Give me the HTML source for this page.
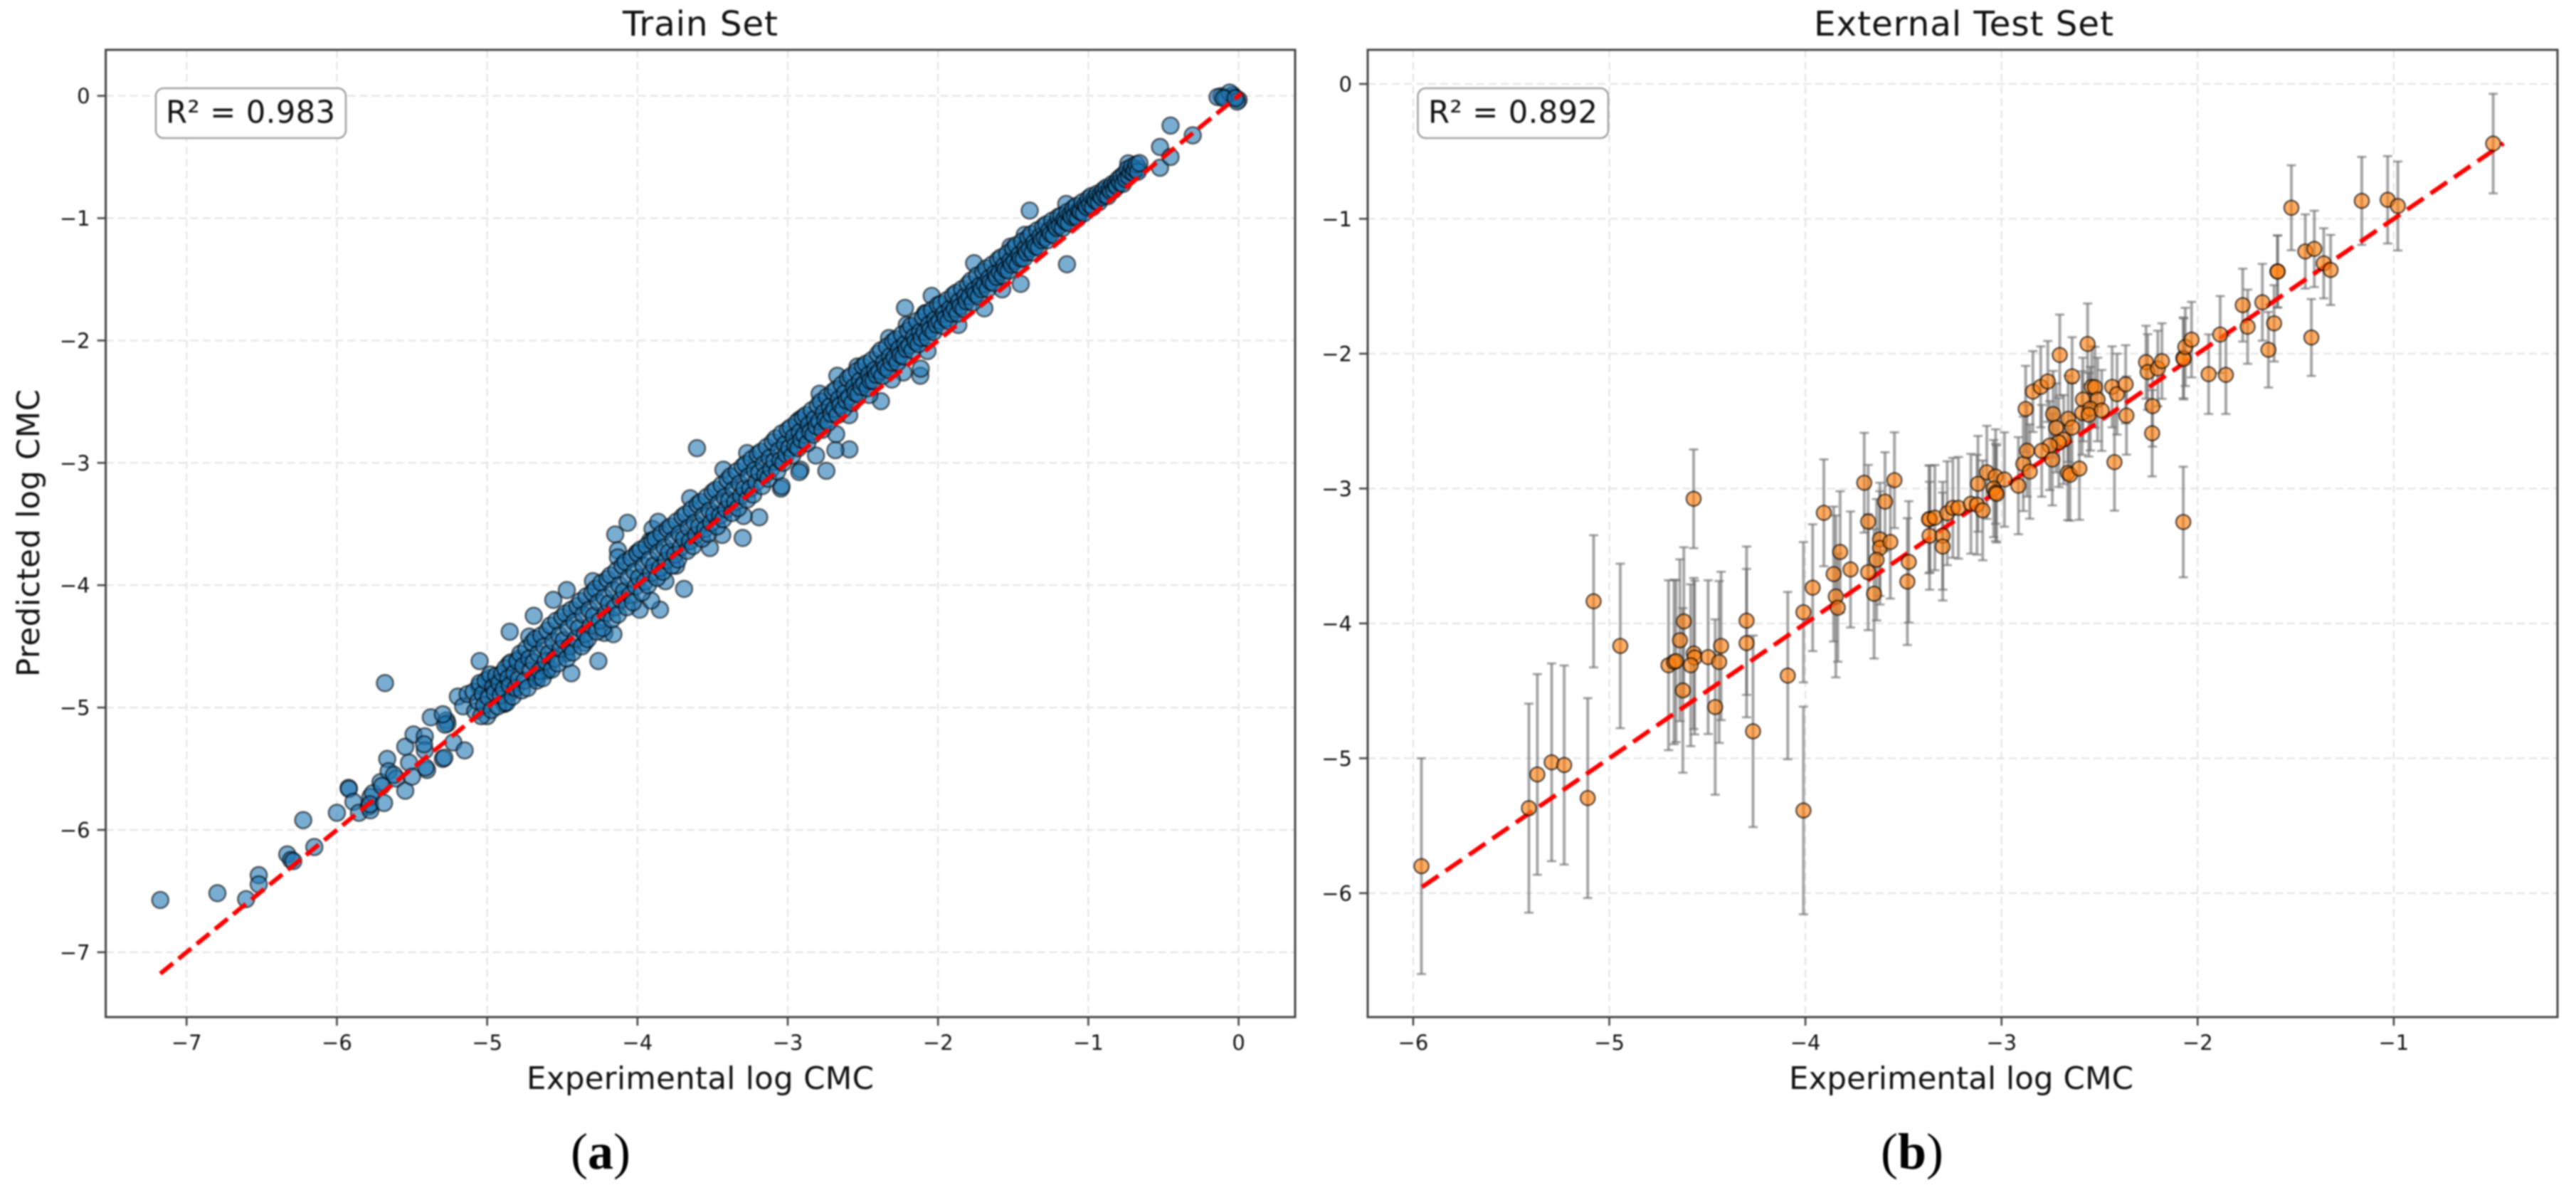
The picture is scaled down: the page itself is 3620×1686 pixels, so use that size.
<!DOCTYPE html>
<html lang="en">
<head>
<meta charset="utf-8">
<title>Train and External Test Set parity plots</title>
<style>
  html,body{margin:0;padding:0;background:#fff;}
  body{width:3620px;height:1686px;overflow:hidden;}
  svg{display:block;filter:blur(1px);}
  text{font-family:"DejaVu Sans","Liberation Sans",sans-serif;fill:#111;}
  .grid{stroke:#e4e4e4;stroke-width:2.2;stroke-dasharray:11 6;fill:none;}
  .spine{stroke:#444;stroke-width:3;fill:none;}
  .tick{stroke:#444;stroke-width:2.6;}
  .tl{font-size:29px;}
  .lab{font-size:43.5px;}
  .ttl{font-size:48.5px;}
  .r2box{fill:#fff;stroke:#a3a3a3;stroke-width:2.6;}
  .r2{font-size:43.3px;}
  .cap{font-family:"Liberation Serif",serif;font-size:72px;fill:#000;}
  .identity{stroke:#ff0000;stroke-width:6.2;fill:none;}
  .mk-train{fill:rgba(31,119,180,.6);stroke:rgba(0,0,0,.6);stroke-width:2.4;}
  .mk-test{fill:rgba(255,127,14,.64);stroke:rgba(0,0,0,.66);stroke-width:2.2;}
  .eb{stroke:rgba(105,105,105,.6);stroke-width:4;fill:none;}
  .ebc{stroke:rgba(105,105,105,.6);stroke-width:3;fill:none;}
</style>
</head>
<body>
<svg id="fig" width="3620" height="1686" viewBox="0 0 3620 1686" xmlns="http://www.w3.org/2000/svg">
  <rect width="3620" height="1686" fill="#fff"/>
  <g id="panelA"></g>
  <g id="panelB"></g>

  <text class="ttl" x="984" y="50" text-anchor="middle" textLength="218">Train Set</text>
  <text class="ttl" x="2759.5" y="50" text-anchor="middle" textLength="421">External Test Set</text>
  <text class="lab" x="984" y="1530" text-anchor="middle" textLength="488">Experimental log CMC</text>
  <text class="lab" x="2756" y="1530" text-anchor="middle" textLength="484">Experimental log CMC</text>
  <text class="lab" transform="translate(55,749) rotate(-90)" text-anchor="middle" textLength="404">Predicted log CMC</text>

  <rect class="r2box" x="219" y="124" width="267" height="70" rx="11"/>
  <text class="r2" x="233" y="172.5" textLength="238">R² = 0.983</text>
  <rect class="r2box" x="1992.5" y="124" width="267.5" height="70" rx="11"/>
  <text class="r2" x="2007" y="172.5" textLength="238">R² = 0.892</text>

  <text class="cap" x="844" y="1642" text-anchor="middle">(<tspan font-weight="bold">a</tspan>)</text>
  <text class="cap" x="2687" y="1642" text-anchor="middle">(<tspan font-weight="bold">b</tspan>)</text>
</svg>

<script>
// ---------- tick values ----------
const trainXTicks = [-7,-6,-5,-4,-3,-2,-1,0];
const trainYTicks = [0,-1,-2,-3,-4,-5,-6,-7];
const testXTicks = [-6,-5,-4,-3,-2,-1];
const testYTicks = [0,-1,-2,-3,-4,-5,-6];

// ---------- identity line ends ----------
const trainIdentity = [-7.175, 0.02];
const testIdentity = [-5.955, -0.44];

// ---------- train set: [experimental, predicted] ----------
const trainOutliers = [
[-7.175,-6.573],[-6.795,-6.517],[-6.604,-6.566],[-6.52,-6.37],[-6.52,-6.445],[-6.33,-6.2],[-6.305,-6.245],[-6.29,-6.255],
[-6.224,-5.92],[-6.15,-6.14],[-6.0,-5.86],[-5.922,-5.656],[-5.92,-5.665],[-5.89,-5.77],[-5.853,-5.86],[-5.786,-5.81],
[-5.777,-5.84],[-5.777,-5.73],[-5.76,-5.70],[-5.78,-5.79],[-5.686,-5.78],[-5.71,-5.61],[-5.68,-4.80],[-5.665,-5.42],
[-5.656,-5.52],[-5.605,-5.58],[-5.62,-5.55],[-5.70,-5.64],[-5.545,-5.68],[-5.52,-5.45],[-5.545,-5.32],[-5.49,-5.22],
[-5.415,-5.235],[-5.415,-5.35],[-5.42,-5.30],[-5.40,-5.51],[-5.41,-5.49],[-5.5,-5.565],[-5.375,-5.08],[-5.295,-5.42],[-5.285,-5.41],
[-5.225,-5.285],[-5.15,-5.35],[-5.27,-5.105],[-5.265,-5.13],[-5.28,-5.14],[-5.295,-5.055],[-5.195,-4.91],[-5.16,-4.99],[-5.13,-4.89],
[-5.05,-4.62],[-5.053,-4.826],[-5.0,-5.07],[-4.99,-4.76],[-4.93,-4.79],[-4.886,-4.97],[-4.855,-4.645],[-4.79,-4.60],[-4.85,-4.38],
[-4.69,-4.25],[-4.72,-4.42],[-4.675,-4.755],[-4.6,-4.70],[-4.44,-4.72],[-4.56,-4.12],[-4.47,-4.04],[-4.26,-4.62],[-4.22,-4.39],
[-4.16,-4.40],[-3.85,-4.20],[-3.69,-4.03],[-3.985,-4.20],[-3.604,-2.88],[-4.066,-3.49],[-4.148,-3.585],[-3.30,-3.614],[-3.19,-3.445],
[-3.045,-3.21],[-2.743,-3.065],[-2.59,-2.89],[-2.683,-2.896],[-2.38,-2.496],[-2.118,-2.288],[-2.115,-2.23],[-2.67,-2.288],[-2.326,-1.98],
[-2.22,-1.733],[-2.042,-1.635],[-2.208,-1.872],[-1.76,-1.368],[-1.45,-1.537],[-1.39,-.938],[-1.142,-1.377],[-.734,-.552],[-.665,-.596],
[-.523,-.418],[-.523,-.588],[-.453,-.5],[-.453,-.243],[-.305,-.323],[-.115,-.003],[-.04,.006],[0,-.033],[-.14,-.01],[-.085,-.018],
[-.03,-.012],[-.06,.027],[-.01,-.047],[-.10,-.02],[-.02,-.02]
];
const trainEdgeMarks = [
[-4.13,-3.715],[-4.13,-3.773],[-4.004,-3.735],[-3.90,-3.54],[-3.862,-3.482],[-3.916,-3.638],[-3.649,-3.289],[-3.428,-3.056],[-3.27,-2.92],
[-3.041,-3.191],[-2.915,-3.056],[-3.294,-3.434],[-3.436,-3.589],[-3.518,-3.696],[-3.743,-3.841],[-3.814,-3.967],[-3.909,-4.126],
[-4.351,-4.471],[-4.477,-4.558],[-4.596,-4.685],[-4.682,-4.753],[-4.848,-4.878],[-4.888,-4.966],[-4.296,-3.967],[-2.231,-2.261],
[-2.307,-2.319],[-2.07,-2.086],[-1.865,-1.873],[-1.692,-1.737],[-1.573,-1.582],[-2.457,-2.445],[-2.591,-2.61],[-2.678,-2.765],
[-2.812,-2.94],[-2.923,-3.075],[-2.086,-1.776],[-2.536,-2.212],[-2.788,-2.435],[-2.923,-2.649],[-1.518,-1.233],[-1.423,-1.136],[-1.147,-.884]
];
const trainBandFive = [
[-5.09,-4.87],[-5.08,-5.03],[-5.06,-4.95],[-5.05,-4.80],[-5.04,-5.07],[-5.03,-4.89],[-5.02,-4.98],[-5.01,-4.78],
[-4.99,-4.92],[-4.98,-4.73],[-4.97,-5.02],[-4.96,-4.83],[-4.95,-4.88],[-4.94,-4.74],[-4.93,-4.99],[-4.92,-4.80],[-4.91,-4.90],[-4.90,-4.72],
[-4.89,-4.85],[-4.88,-4.68],[-4.87,-4.96],[-4.86,-4.76],[-4.85,-4.82],[-4.84,-4.63],[-4.83,-4.91],[-4.82,-4.72],[-4.81,-4.84],[-4.80,-4.62],
[-4.79,-4.77],[-4.78,-4.56],[-4.77,-4.86],[-4.76,-4.66],[-4.75,-4.78],[-4.74,-4.52],[-4.73,-4.84],[-4.72,-4.60],[-4.71,-4.70],[-4.70,-4.47],
[-4.69,-4.63],[-4.68,-4.44],[-4.67,-4.78],[-4.66,-4.56],[-4.65,-4.70],[-4.64,-4.41],[-4.63,-4.76],[-4.62,-4.50],[-4.61,-4.62],[-4.60,-4.37],
[-4.59,-4.56],[-4.58,-4.33],[-4.57,-4.69],[-4.56,-4.46],[-4.55,-4.60],[-4.54,-4.29],[-4.53,-4.64],[-4.52,-4.41],[-4.51,-4.52],[-4.50,-4.26],
[-4.49,-4.45],[-4.48,-4.23],[-4.47,-4.60],[-4.46,-4.35],[-4.45,-4.50],[-4.44,-4.20],[-4.43,-4.55],[-4.42,-4.30],[-4.41,-4.44],[-4.40,-4.17],
[-4.39,-4.35],[-4.38,-4.13],[-4.37,-4.50],[-4.36,-4.24],[-4.35,-4.40],[-4.34,-4.09],[-4.33,-4.44],[-4.32,-4.20],[-4.31,-4.33],[-4.30,-4.06],
[-4.29,-4.25],[-4.28,-4.03],[-4.27,-4.38],[-4.26,-4.14],[-4.25,-4.29],[-4.24,-3.98],[-4.23,-4.35],[-4.22,-4.10],[-4.21,-4.23],[-4.20,-3.95],
[-4.19,-4.15],[-4.18,-3.92],[-4.17,-4.28],[-4.16,-4.04],[-4.15,-4.18],[-4.14,-3.88],[-4.13,-4.24],[-4.12,-4.00],[-4.11,-4.12],[-4.10,-3.84],
[-4.09,-4.05],[-4.08,-3.81],[-4.07,-4.18],[-4.06,-3.94],[-4.05,-4.08],[-4.04,-3.78],[-4.03,-4.14],[-4.02,-3.89],[-4.01,-4.01],[-4.00,-3.74]
];
const trainBandFour = [
[-3.99,-3.94],[-3.98,-3.71],[-3.97,-4.06],[-3.96,-3.84],[-3.95,-3.97],[-3.94,-3.68],[-3.93,-4.00],[-3.92,-3.79],[-3.91,-3.90],[-3.90,-3.64],
[-3.89,-3.84],[-3.88,-3.62],[-3.87,-3.94],[-3.86,-3.73],[-3.85,-3.86],[-3.84,-3.58],[-3.83,-3.89],[-3.82,-3.69],[-3.81,-3.80],[-3.80,-3.54],
[-3.79,-3.73],[-3.78,-3.52],[-3.77,-3.84],[-3.76,-3.63],[-3.75,-3.75],[-3.74,-3.48],[-3.73,-3.79],[-3.72,-3.58],[-3.71,-3.69],[-3.70,-3.44],
[-3.69,-3.62],[-3.68,-3.42],[-3.67,-3.72],[-3.66,-3.53],[-3.65,-3.64],[-3.64,-3.38],[-3.63,-3.68],[-3.62,-3.49],[-3.61,-3.59],[-3.60,-3.34],
[-3.59,-3.52],[-3.58,-3.32],[-3.57,-3.62],[-3.56,-3.43],[-3.55,-3.54],[-3.54,-3.28],[-3.53,-3.58],[-3.52,-3.39],[-3.51,-3.49],[-3.50,-3.24],
[-3.49,-3.42],[-3.48,-3.22],[-3.47,-3.52],[-3.46,-3.33],[-3.45,-3.43],[-3.44,-3.18],[-3.43,-3.46],[-3.42,-3.28],[-3.41,-3.38],[-3.40,-3.14],
[-3.39,-3.31],[-3.38,-3.11],[-3.37,-3.41],[-3.36,-3.22],[-3.35,-3.32],[-3.34,-3.07],[-3.33,-3.37],[-3.32,-3.17],[-3.31,-3.27],[-3.30,-3.03],
[-3.29,-3.21],[-3.28,-3.01],[-3.27,-3.30],[-3.26,-3.11],[-3.25,-3.21],[-3.24,-2.97],[-3.23,-3.26],[-3.22,-3.06],[-3.21,-3.16],[-3.20,-2.93],
[-3.19,-3.08],[-3.18,-2.91],[-3.17,-3.19],[-3.16,-3.01],[-3.15,-3.10],[-3.14,-2.87],[-3.13,-3.13],[-3.12,-2.96],[-3.11,-3.05],[-3.10,-2.83],
[-3.09,-2.99],[-3.08,-2.80],[-3.07,-3.07],[-3.06,-2.90],[-3.05,-2.98],[-3.04,-2.76],[-3.03,-3.00],[-3.02,-2.85],[-3.01,-2.93],[-3.00,-2.73]
];
const trainBandThree = [
[-2.99,-2.88],[-2.98,-2.71],[-2.97,-2.94],[-2.96,-2.79],[-2.95,-2.86],[-2.94,-2.67],[-2.93,-2.88],[-2.92,-2.75],[-2.91,-2.81],[-2.90,-2.63],
[-2.89,-2.77],[-2.88,-2.61],[-2.87,-2.84],[-2.86,-2.69],[-2.85,-2.75],[-2.84,-2.57],[-2.83,-2.77],[-2.82,-2.64],[-2.81,-2.70],[-2.80,-2.53],
[-2.79,-2.66],[-2.78,-2.50],[-2.77,-2.73],[-2.76,-2.59],[-2.75,-2.65],[-2.74,-2.46],[-2.73,-2.67],[-2.72,-2.54],[-2.71,-2.60],[-2.70,-2.42],
[-2.69,-2.56],[-2.68,-2.40],[-2.67,-2.61],[-2.66,-2.48],[-2.65,-2.53],[-2.64,-2.36],[-2.63,-2.56],[-2.62,-2.43],[-2.61,-2.49],[-2.60,-2.31],
[-2.59,-2.46],[-2.58,-2.29],[-2.57,-2.51],[-2.56,-2.38],[-2.55,-2.43],[-2.54,-2.25],[-2.53,-2.44],[-2.52,-2.33],[-2.51,-2.38],[-2.50,-2.21],
[-2.49,-2.35],[-2.48,-2.19],[-2.47,-2.39],[-2.46,-2.28],[-2.45,-2.33],[-2.44,-2.16],[-2.43,-2.33],[-2.42,-2.24],[-2.41,-2.28],[-2.40,-2.11],
[-2.39,-2.25],[-2.38,-2.08],[-2.37,-2.29],[-2.36,-2.18],[-2.35,-2.22],[-2.34,-2.05],[-2.33,-2.24],[-2.32,-2.13],[-2.31,-2.18],[-2.30,-2.01],
[-2.29,-2.14],[-2.28,-1.99],[-2.27,-2.18],[-2.26,-2.07],[-2.25,-2.12],[-2.24,-1.95],[-2.23,-2.13],[-2.22,-2.03],[-2.21,-2.07],[-2.20,-1.92],
[-2.19,-2.04],[-2.18,-1.88],[-2.17,-2.08],[-2.16,-1.97],[-2.15,-2.01],[-2.14,-1.84],[-2.13,-2.03],[-2.12,-1.93],[-2.11,-1.98],[-2.10,-1.81],
[-2.09,-1.93],[-2.08,-1.78],[-2.07,-1.98],[-2.06,-1.87],[-2.05,-1.91],[-2.04,-1.75],[-2.03,-1.93],[-2.02,-1.83],[-2.01,-1.87],[-2.00,-1.71]
];
const trainBandTwo = [
[-1.99,-1.84],[-1.98,-1.70],[-1.97,-1.88],[-1.96,-1.78],[-1.95,-1.82],[-1.94,-1.67],[-1.93,-1.84],[-1.92,-1.74],[-1.91,-1.78],[-1.90,-1.63],
[-1.89,-1.74],[-1.88,-1.61],[-1.87,-1.78],[-1.86,-1.68],[-1.85,-1.72],[-1.84,-1.58],[-1.83,-1.74],[-1.82,-1.64],[-1.81,-1.68],[-1.80,-1.54],
[-1.79,-1.64],[-1.78,-1.51],[-1.77,-1.69],[-1.76,-1.59],[-1.75,-1.62],[-1.74,-1.47],[-1.73,-1.64],[-1.72,-1.55],[-1.71,-1.58],[-1.70,-1.44],
[-1.69,-1.54],[-1.68,-1.41],[-1.67,-1.58],[-1.66,-1.49],[-1.65,-1.52],[-1.64,-1.38],[-1.63,-1.53],[-1.62,-1.45],[-1.61,-1.48],[-1.60,-1.34],
[-1.59,-1.44],[-1.58,-1.32],[-1.57,-1.47],[-1.56,-1.39],[-1.55,-1.42],[-1.54,-1.29],[-1.53,-1.43],[-1.52,-1.35],[-1.51,-1.38],[-1.50,-1.25],
[-1.49,-1.35],[-1.48,-1.22],[-1.47,-1.38],[-1.46,-1.30],[-1.45,-1.33],[-1.44,-1.19],[-1.43,-1.33],[-1.42,-1.25],[-1.41,-1.28],[-1.40,-1.16],
[-1.39,-1.25],[-1.38,-1.13],[-1.37,-1.28],[-1.36,-1.20],[-1.35,-1.23],[-1.34,-1.10],[-1.33,-1.24],[-1.32,-1.15],[-1.31,-1.18],[-1.30,-1.07],
[-1.29,-1.16],[-1.28,-1.05],[-1.27,-1.18],[-1.26,-1.10],[-1.25,-1.13],[-1.24,-1.02],[-1.23,-1.14],[-1.22,-1.06],[-1.21,-1.08],[-1.20,-.99],
[-1.19,-1.06],[-1.18,-.98],[-1.17,-1.08],[-1.16,-1.01],[-1.15,-1.03],[-1.14,-.95],[-1.13,-1.04],[-1.12,-.97],[-1.11,-.99],[-1.10,-.92]
];
const trainBandOne = [
[-1.09,-.98],[-1.08,-.90],[-1.07,-1.00],[-1.06,-.94],[-1.05,-.95],[-1.04,-.87],[-1.03,-.96],[-1.02,-.89],[-1.01,-.91],[-1.00,-.84],
[-.99,-.89],[-.98,-.82],[-.97,-.91],[-.96,-.84],[-.95,-.86],[-.94,-.80],[-.93,-.87],[-.92,-.81],[-.91,-.83],[-.90,-.77],
[-.89,-.81],[-.88,-.75],[-.87,-.82],[-.86,-.76],[-.85,-.78],[-.84,-.72],[-.83,-.77],[-.82,-.72],[-.81,-.74],[-.80,-.68],
[-.79,-.71],[-.78,-.66],[-.77,-.72],[-.76,-.64],[-.75,-.68],[-.74,-.60],[-.73,-.66],[-.72,-.62],[-.71,-.58],[-.70,-.63],
[-.69,-.60],[-.68,-.56],[-.67,-.62],[-.66,-.55]
];
const trainPoints = trainOutliers.concat(trainEdgeMarks, trainBandFive, trainBandFour, trainBandThree, trainBandTwo, trainBandOne);

// ---------- external test set: [experimental, predicted, error] ----------
const testPoints = [
[-5.958,-5.80,.80],[-5.41,-5.37,.775],[-5.367,-5.12,.744],[-5.294,-5.03,.733],[-5.23,-5.05,.738],[-5.11,-5.295,.741],[-5.08,-3.836,.49],[-4.944,-4.167,.61],
[-4.698,-4.31,.63],[-4.67,-4.286,.61],[-4.66,-4.28,.60],[-4.625,-4.497,.61],[-4.64,-4.125,.6],[-4.62,-3.985,.55],[-4.569,-4.223,.56],[-4.565,-4.253,.57],
[-4.585,-4.31,.6],[-4.496,-4.25,.57],[-4.44,-4.286,.6],[-4.43,-4.167,.55],[-4.46,-4.62,.65],[-4.30,-3.98,.55],[-4.30,-4.146,.55],[-4.267,-4.80,.71],
[-4.09,-4.387,.62],[-4.01,-3.917,.52],[-4.01,-5.387,.77],[-3.963,-3.735,.47],[-3.845,-3.80,.6],[-3.835,-3.884,.40],[-3.856,-3.634,.5],[-3.77,-3.60,.43],
[-3.68,-3.62,.43],[-3.65,-3.78,.48],[-3.48,-3.69,.47],[-4.57,-3.076,.366],[-3.906,-3.18,.396],[-3.823,-3.47,.45],[-3.70,-2.957,.37],[-3.68,-3.245,.42],
[-3.594,-3.097,.366],[-3.546,-2.938,.355],[-3.62,-3.377,.42],[-3.62,-3.44,.42],[-3.567,-3.396,.42],[-3.637,-3.528,.45],[-3.473,-3.544,.45],[-3.365,-3.226,.396],
[-3.37,-3.228,.40],[-3.34,-3.216,.39],[-3.367,-3.35,.40],[-3.30,-3.35,.40],[-3.30,-3.43,.40],[-3.277,-3.183,.385],[-3.248,-3.143,.37],[-3.22,-3.143,.377],
[-3.156,-3.113,.37],[-3.125,-3.12,.37],[-3.12,-2.965,.355],[-3.096,-3.162,.37],[-3.075,-2.88,.345],[-3.03,-2.911,.35],[-2.985,-2.933,.35],[-3.04,-3.0,.36],
[-3.03,-3.03,.36],[-3.025,-3.04,.36],[-2.914,-2.979,.36],[-2.889,-2.817,.35],[-2.87,-2.72,.34],[-2.856,-2.874,.35],[-2.877,-2.41,.32],[-2.84,-2.281,.30],
[-2.80,-2.246,.30],[-2.764,-2.206,.30],[-2.703,-2.01,.30],[-2.64,-2.168,.29],[-2.737,-2.448,.32],[-2.722,-2.55,.33],[-2.66,-2.483,.32],[-2.64,-2.548,.33],
[-2.683,-2.637,.33],[-2.708,-2.658,.33],[-2.754,-2.682,.33],[-2.795,-2.72,.34],[-2.741,-2.785,.34],[-2.662,-2.884,.35],[-2.651,-2.898,.34],[-2.603,-2.852,.38],
[-2.561,-1.928,.30],[-2.54,-2.246,.30],[-2.524,-2.249,.30],[-2.585,-2.34,.31],[-2.51,-2.34,.31],[-2.589,-2.44,.31],[-2.547,-2.408,.31],[-2.555,-2.453,.31],
[-2.489,-2.421,.30],[-2.436,-2.246,.30],[-2.411,-2.30,.30],[-2.367,-2.227,.29],[-2.363,-2.459,.29],[-2.424,-2.804,.36],[-2.263,-2.063,.27],[-2.255,-2.136,.28],
[-2.203,-2.11,.28],[-2.182,-2.055,.28],[-2.23,-2.389,.30],[-2.232,-2.59,.32],[-2.073,-2.031,.30],[-2.071,-2.039,.30],[-2.063,-1.95,.29],[-2.031,-1.896,.28],
[-2.073,-3.248,.41],[-1.944,-2.152,.295],[-1.856,-2.157,.29],[-1.885,-1.858,.285],[-1.77,-1.64,.27],[-1.745,-1.80,.275],[-1.67,-1.619,.285],[-1.639,-1.971,.28],
[-1.61,-1.775,.283],[-1.593,-1.39,.267],[-1.592,-1.391,.267],[-1.522,-.918,.315],[-1.451,-1.242,.275],[-1.405,-1.223,.283],[-1.42,-1.88,.285],[-1.357,-1.33,.26],
[-1.322,-1.379,.26],[-1.163,-.867,.326],[-1.031,-.859,.324],[-.979,-.905,.33],[-.493,-.442,.369]
];

// ---------- drawing ----------
const NS = 'http://www.w3.org/2000/svg';
function svgEl(tag, attrs, parent){
  const el = document.createElementNS(NS, tag);
  for (const k in attrs) el.setAttribute(k, attrs[k]);
  parent.appendChild(el);
  return el;
}
function tickText(v){ return v < 0 ? '\u2212' + Math.abs(v) : String(v); }

function drawPanel(cfg){
  const root = document.getElementById(cfg.id);
  const L = cfg.left, R = cfg.right, T = cfg.top, B = cfg.bottom;
  const xScale = v => L + (v - cfg.xMin) / (cfg.xMax - cfg.xMin) * (R - L);
  const yScale = v => B - (v - cfg.yMin) / (cfg.yMax - cfg.yMin) * (B - T);

  cfg.xTicks.forEach(v => {
    const px = xScale(v);
    const g = svgEl('line', {class:'grid', x1:px, x2:px, y1:T, y2:B}, root);
    
    
  });
  cfg.yTicks.forEach(v => {
    const py = yScale(v);
    const g = svgEl('line', {class:'grid', x1:L, x2:R, y1:py, y2:py}, root);
    
    
  });

  if (cfg.errors) {
    cfg.points.forEach(p => {
      const px = xScale(p[0]), top = yScale(p[1] + p[2]), bot = yScale(p[1] - p[2]);
      const b = svgEl('line', {class:'eb', x1:px, x2:px, y1:top, y2:bot}, root);
      
      
      [top, bot].forEach(cy => {
        const c = svgEl('line', {class:'ebc', x1:px-6.5, x2:px+6.5, y1:cy, y2:cy}, root);
        
        
      });
    });
  }

  const drawLine = () => {
    const line = svgEl('line', {class:'identity', 'stroke-dasharray':cfg.dash,
      x1:xScale(cfg.identity[0]), y1:yScale(cfg.identity[0]), x2:xScale(cfg.identity[1]), y2:yScale(cfg.identity[1])}, root);
    
    
  };
  if (cfg.lineBelow) drawLine();

  cfg.points.forEach(p => {
    const m = svgEl('circle', {class:cfg.markerClass, cx:xScale(p[0]), cy:yScale(p[1]), r:cfg.radius}, root);
    
    
  });

  if (!cfg.lineBelow) drawLine();

  const frame = svgEl('rect', {class:'spine', x:L, y:T, width:R-L, height:B-T}, root);
  
  

  cfg.xTicks.forEach(v => {
    const px = xScale(v);
    const t = svgEl('line', {class:'tick', x1:px, x2:px, y1:B, y2:B+12}, root);
    
    
    const lbl = svgEl('text', {class:'tl', x:px, y:B+46, 'text-anchor':'middle'}, root);
    
    
    lbl.textContent = tickText(v);
  });
  cfg.yTicks.forEach(v => {
    const py = yScale(v);
    const t = svgEl('line', {class:'tick', x1:L-12, x2:L, y1:py, y2:py}, root);
    
    
    const lbl = svgEl('text', {class:'tl', x:L-22, y:py+10.5, 'text-anchor':'end'}, root);
    
    
    lbl.textContent = tickText(v);
  });
}

drawPanel({id:'panelA', left:148.6, right:1820, top:70, bottom:1429,
  xMin:-7.538, xMax:0.376, yMin:-7.53, yMax:0.376,
  xTicks:trainXTicks, yTicks:trainYTicks, points:trainPoints, identity:trainIdentity,
  errors:false, lineBelow:false, dash:'23 10', radius:11.6,
  markerClass:'mk-train', markerName:'train-point'});

drawPanel({id:'panelB', left:1922, right:3594, top:70, bottom:1429,
  xMin:-6.232, xMax:-0.165, yMin:-6.919, yMax:0.253,
  xTicks:testXTicks, yTicks:testYTicks, points:testPoints, identity:testIdentity,
  errors:true, lineBelow:true, dash:'28 12', radius:10.2,
  markerClass:'mk-test', markerName:'test-point'});
</script>
</body>
</html>
